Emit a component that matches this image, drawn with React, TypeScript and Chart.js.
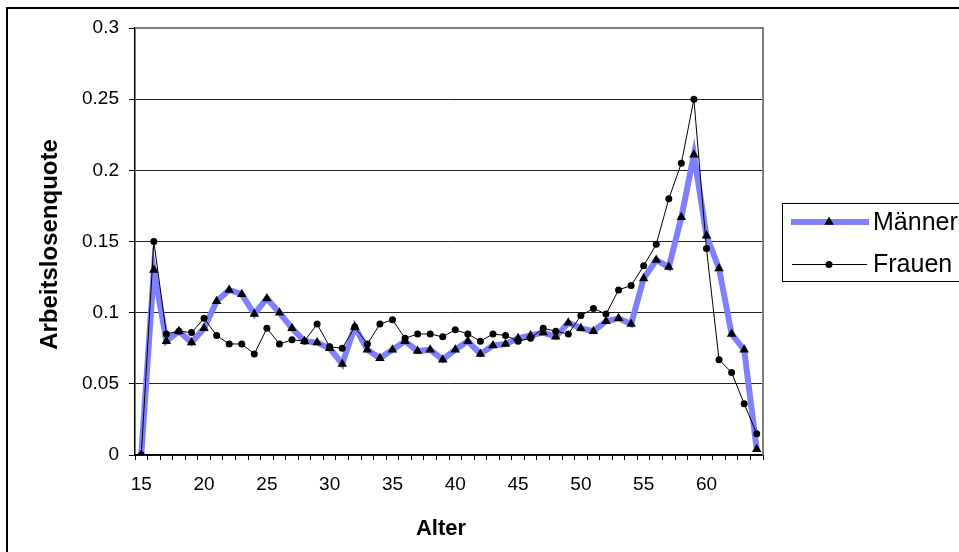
import React, { useEffect, useRef } from 'react';
import { Chart, registerables } from 'chart.js';

Chart.register(...registerables);

const FONT = '"Liberation Sans", Arial, sans-serif';

const ages = [
  15, 16, 17, 18, 19, 20, 21, 22, 23, 24,
  25, 26, 27, 28, 29, 30, 31, 32, 33, 34,
  35, 36, 37, 38, 39, 40, 41, 42, 43, 44,
  45, 46, 47, 48, 49, 50, 51, 52, 53, 54,
  55, 56, 57, 58, 59, 60, 61, 62, 63, 64,
];

const maenner = [
  0.0, 0.130, 0.080, 0.087, 0.079, 0.089, 0.108, 0.116, 0.113, 0.099,
  0.110, 0.100, 0.089, 0.080, 0.079, 0.075, 0.064, 0.090, 0.074, 0.068,
  0.074, 0.080, 0.073, 0.074, 0.067, 0.074, 0.080, 0.071, 0.077, 0.078,
  0.082, 0.084, 0.086, 0.083, 0.093, 0.089, 0.087, 0.094, 0.096, 0.092,
  0.124, 0.137, 0.132, 0.167, 0.211, 0.154, 0.131, 0.085, 0.074, 0.004,
];

const frauen = [
  0.0, 0.150, 0.085, 0.087, 0.086, 0.096, 0.084, 0.078, 0.078, 0.071,
  0.089, 0.078, 0.081, 0.080, 0.092, 0.076, 0.075, 0.090, 0.078, 0.092,
  0.095, 0.082, 0.085, 0.085, 0.083, 0.088, 0.085, 0.080, 0.085, 0.084,
  0.080, 0.082, 0.089, 0.087, 0.085, 0.098, 0.103, 0.099, 0.116, 0.119,
  0.133, 0.148, 0.180, 0.205, 0.250, 0.145, 0.067, 0.058, 0.036, 0.015,
];

const seriesNames = ['Männer', 'Frauen'];
const xTitle = 'Alter';
const yTitle = 'Arbeitslosenquote';
const yMin = 0;
const yMax = 0.3;
const yStep = 0.05;
const xLabelEvery = 5;

const BLUE = '#8080FF';

function drawTriangle(ctx: CanvasRenderingContext2D, x: number, y: number, r: number) {
  let rad = 0;
  ctx.beginPath();
  ctx.moveTo(x + Math.sin(rad) * r, y - Math.cos(rad) * r);
  rad += (2 * Math.PI) / 3;
  ctx.lineTo(x + Math.sin(rad) * r, y - Math.cos(rad) * r);
  rad += (2 * Math.PI) / 3;
  ctx.lineTo(x + Math.sin(rad) * r, y - Math.cos(rad) * r);
  ctx.closePath();
  ctx.fill();
}

export default function App() {
  const ref = useRef<HTMLCanvasElement>(null);

  useEffect(() => {
    const canvas = ref.current;
    if (!canvas) return;

    const decor = {
      id: 'decor',
      beforeDatasetsDraw(chart: any) {
        const { ctx, chartArea: ca } = chart;
        ctx.save();
        ctx.strokeStyle = '#808080';
        ctx.lineWidth = 2;
        ctx.beginPath();
        ctx.moveTo(ca.left, ca.top);
        ctx.lineTo(ca.right, ca.top);
        ctx.lineTo(ca.right, ca.bottom);
        ctx.stroke();
        ctx.restore();
      },
      afterDraw(chart: any) {
        const { ctx, chartArea: ca } = chart;
        ctx.save();
        // outer frame
        ctx.strokeStyle = '#000';
        ctx.lineWidth = 2;
        ctx.beginPath();
        ctx.moveTo(7, 560);
        ctx.lineTo(7, 8);
        ctx.lineTo(970, 8);
        ctx.stroke();

        // axis titles
        ctx.fillStyle = '#000';
        ctx.textAlign = 'center';
        ctx.textBaseline = 'middle';
        ctx.font = `bold 22px ${FONT}`;
        ctx.fillText(xTitle, 441, 529);
        ctx.save();
        ctx.translate(50, (ca.top + ca.bottom) / 2 + 3);
        ctx.rotate(-Math.PI / 2);
        ctx.font = `bold 24px ${FONT}`;
        ctx.fillText(yTitle, 0, 0);
        ctx.restore();

        // legend
        const boxL = 782.5;
        const boxT = 203.5;
        const boxB = 281.5;
        ctx.strokeStyle = '#000';
        ctx.lineWidth = 1;
        ctx.strokeRect(boxL, boxT, 400, boxB - boxT);
        const rows = [222, 264];
        // Männer
        ctx.strokeStyle = BLUE;
        ctx.lineWidth = 6;
        ctx.beginPath();
        ctx.moveTo(791, rows[0]);
        ctx.lineTo(869, rows[0]);
        ctx.stroke();
        ctx.fillStyle = '#000';
        drawTriangle(ctx, 829, rows[0], 5.5);
        // Frauen
        ctx.strokeStyle = '#000';
        ctx.lineWidth = 1;
        ctx.beginPath();
        ctx.moveTo(792, rows[1] + 0.5);
        ctx.lineTo(867, rows[1] + 0.5);
        ctx.stroke();
        ctx.beginPath();
        ctx.arc(829, rows[1] + 0.5, 3.5, 0, Math.PI * 2);
        ctx.fill();
        ctx.font = `25px ${FONT}`;
        ctx.textAlign = 'left';
        ctx.textBaseline = 'middle';
        ctx.fillText(seriesNames[0], 873, rows[0] + 1);
        ctx.fillText(seriesNames[1], 873, rows[1] + 1);
        ctx.restore();
      },
    };

    const chart = new Chart(canvas, {
      type: 'line',
      data: {
        labels: ages.map(String),
        datasets: [
          {
            label: seriesNames[0],
            data: maenner,
            borderColor: BLUE,
            borderWidth: 6,
            pointStyle: 'triangle',
            pointRadius: 5.5,
            pointBackgroundColor: '#000',
            pointBorderColor: '#000',
            pointBorderWidth: 0,
            tension: 0,
            order: 2,
          },
          {
            label: seriesNames[1],
            data: frauen,
            borderColor: '#000',
            borderWidth: 1,
            pointStyle: 'circle',
            pointRadius: 3.5,
            pointBackgroundColor: '#000',
            pointBorderColor: '#000',
            pointBorderWidth: 0,
            tension: 0,
            order: 1,
          },
        ],
      },
      options: {
        responsive: false,
        maintainAspectRatio: false,
        animation: false,
        layout: { padding: { left: 0, right: 196, top: 28, bottom: 0 } },
        plugins: {
          legend: { display: false },
          tooltip: { enabled: false },
          title: { display: false },
        },
        scales: {
          x: {
            type: 'category',
            offset: true,
            grid: {
              offset: true,
              drawOnChartArea: false,
              drawTicks: true,
              tickLength: 5,
              color: '#000',
              tickColor: '#000',
              lineWidth: 1,
            },
            border: { display: true, color: '#000', width: 1.5 },
            ticks: {
              autoSkip: false,
              maxRotation: 0,
              minRotation: 0,
              padding: 13,
              color: '#000',
              font: { family: FONT, size: 19 },
              callback: (_v: any, i: number) => (ages[i] % xLabelEvery === 0 ? String(ages[i]) : ''),
            },
            afterFit: (s: any) => {
              s.height = 97;
            },
          },
          y: {
            min: yMin,
            max: yMax,
            ticks: {
              stepSize: yStep,
              padding: 10,
              color: '#000',
              font: { family: FONT, size: 19 },
              callback: (v: any) => String(parseFloat(Number(v).toFixed(2))),
            },
            grid: {
              color: (c: any) =>
                c.tick && Math.abs(c.tick.value - yMax) < 1e-9 ? 'rgba(0,0,0,0)' : '#222',
              tickColor: '#000',
              tickLength: 6,
              lineWidth: 1,
            },
            border: { display: true, color: '#000', width: 1.5 },
            afterFit: (s: any) => {
              s.width = 135;
            },
          },
        },
      },
      plugins: [decor],
    });

    return () => {
      chart.destroy();
    };
  }, []);

  return (
    <div style={{ position: 'absolute', left: 0, top: 0, width: 959, height: 552, background: '#fff' }}>
      <canvas ref={ref} width={959} height={552} style={{ display: 'block' }} />
    </div>
  );
}
